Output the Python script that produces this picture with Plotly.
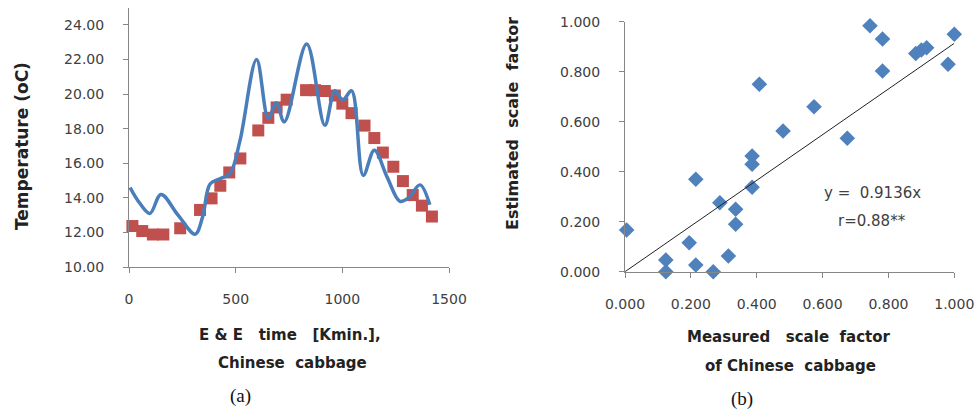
import plotly.graph_objects as go

W, H = 977, 414

# ---- Panel (a) data ----
meas_time = [16, 62, 112, 161, 240, 333, 387, 428, 470, 522, 606, 653, 692, 739,
             830, 872, 918, 965, 1000, 1043, 1104, 1150, 1190, 1239, 1284, 1330, 1373, 1420]
meas_temp = [12.37, 12.08, 11.88, 11.88, 12.24, 13.3, 13.97, 14.7, 15.47, 16.28, 17.9, 18.63, 19.23, 19.68,
             20.23, 20.23, 20.18, 19.92, 19.45, 18.9, 18.18, 17.46, 16.62, 15.8, 14.97, 14.16, 13.55, 12.92]

est_time = [5, 50, 98, 150, 230, 310, 345, 380, 426, 473, 520, 598, 653, 690, 728,
            833, 918, 965, 1002, 1043, 1098, 1150, 1210, 1270, 1310, 1364, 1410]
est_temp = [14.6, 13.7, 13.1, 14.2, 13.0, 11.9, 12.9, 14.8, 15.1, 15.4, 17.3, 22.0, 18.6, 19.5, 18.4,
            22.9, 18.2, 20.2, 19.65, 20.2, 15.3, 16.75, 15.2, 13.8, 14.0, 14.75, 13.6]

x_ticks_a = [0, 500, 1000, 1500]
y_ticks_a = [10, 12, 14, 16, 18, 20, 22, 24]

# ---- Panel (b) data ----
measured_sf = [0.005, 0.124, 0.124, 0.195, 0.215, 0.215, 0.268, 0.288, 0.314, 0.336, 0.336,
               0.386, 0.386, 0.386, 0.408, 0.48, 0.574, 0.675, 0.744, 0.782, 0.782,
               0.883, 0.9, 0.916, 0.981, 1.0]
estimated_sf = [0.167, 0.047, 0.0, 0.116, 0.37, 0.027, 0.0, 0.276, 0.063, 0.25, 0.19,
                0.463, 0.43, 0.338, 0.75, 0.563, 0.66, 0.534, 0.984, 0.931, 0.803,
                0.873, 0.887, 0.896, 0.83, 0.95]
slope = 0.9136
trend_x = [0.0, 1.0]
ticks_b = [0.0, 0.2, 0.4, 0.6, 0.8, 1.0]


def fx(px):
    return px / W


def fy(py):
    return 1 - py / H


AX = "#868686"
TXT = "#404040"
FONT = "DejaVu Sans"

fig = go.Figure()

fig.add_trace(go.Scatter(
    x=meas_time, y=meas_temp, mode="markers",
    marker=dict(symbol="square", size=12, color="#C0504D"),
    xaxis="x", yaxis="y", cliponaxis=False))
fig.add_trace(go.Scatter(
    x=est_time, y=est_temp, mode="lines",
    line=dict(color="#4A7EBB", width=3.5, shape="spline", smoothing=1.0),
    xaxis="x", yaxis="y", cliponaxis=False))

fig.add_trace(go.Scatter(
    x=measured_sf, y=estimated_sf, mode="markers",
    marker=dict(symbol="diamond", size=12, color="#4F81BD"),
    xaxis="x2", yaxis="y2", cliponaxis=False))
fig.add_trace(go.Scatter(
    x=trend_x, y=[slope * v for v in trend_x], mode="lines",
    line=dict(color="#222222", width=1),
    xaxis="x2", yaxis="y2"))

common = dict(showline=True, linecolor=AX, linewidth=1, ticks="outside", ticklen=5,
              tickcolor=AX, showgrid=False, zeroline=False, automargin=False,
              tickfont=dict(family=FONT, size=14, color=TXT))

fig.update_layout(
    width=W, height=H, margin=dict(l=0, r=0, t=0, b=0, autoexpand=False),
    paper_bgcolor="white", plot_bgcolor="white", showlegend=False,
    xaxis=dict(domain=[fx(129), fx(449)], range=[0, 1500], tickvals=x_ticks_a,
               anchor="y", ticklabelstandoff=14, **common),
    yaxis=dict(domain=[fy(267), fy(7.7)], range=[10, 25], tickvals=y_ticks_a,
               tickformat=".2f", anchor="x", ticklabelstandoff=16, **common),
    xaxis2=dict(domain=[fx(625), fx(954.3)], range=[0, 1], tickvals=ticks_b,
                tickformat=".3f", anchor="y2", ticklabelstandoff=14, **common),
    yaxis2=dict(domain=[fy(271.7), fy(21.7)], range=[0, 1], tickvals=ticks_b,
                tickformat=".3f", anchor="x2", ticklabelstandoff=16, **common),
)

bold = dict(family=FONT, size=15, color="#222222")
serif = dict(family="Liberation Serif", size=19, color="#111111")
ann = [
    dict(text="<b>Temperature (oC)</b>", x=fx(22), y=fy(146), textangle=-90,
         font=dict(family=FONT, size=17, color="#222222")),
    dict(text="<b>E &amp; E\u00a0\u00a0 time\u00a0\u00a0 [Kmin.],</b>", x=fx(290), y=fy(335), font=bold),
    dict(text="<b>Chinese\u00a0 cabbage</b>", x=fx(292), y=fy(363), font=bold),
    dict(text="(a)", x=fx(240), y=fy(396), font=serif),
    dict(text="<b>Estimated\u00a0 scale\u00a0 factor</b>", x=fx(512), y=fy(124), textangle=-90,
         font=dict(family=FONT, size=16, color="#222222")),
    dict(text="<b>Measured\u00a0\u00a0 scale\u00a0 factor</b>", x=fx(789), y=fy(337), font=bold),
    dict(text="<b>of Chinese\u00a0 cabbage</b>", x=fx(790), y=fy(366), font=bold),
    dict(text="(b)", x=fx(742), y=fy(399), font=serif),
    dict(text="y =\u00a0 0.9136x", x=fx(872), y=fy(193), font=dict(family=FONT, size=15, color=TXT)),
    dict(text="r=0.88**", x=fx(872), y=fy(221), font=dict(family=FONT, size=15, color=TXT)),
]
for a in ann:
    a.update(xref="paper", yref="paper", showarrow=False, xanchor="center", yanchor="middle")
fig.update_layout(annotations=ann)

fig.write_html("out.html")
